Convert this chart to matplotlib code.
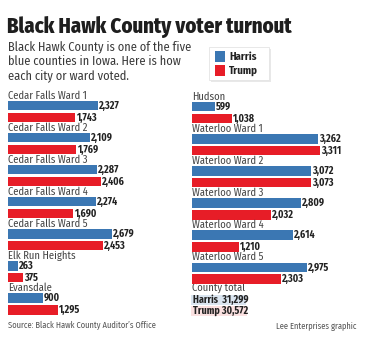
import matplotlib
matplotlib.use("Agg")
import matplotlib.pyplot as plt
from matplotlib.patches import Rectangle

plt.rcParams['font.family'] = ['Fira Sans Condensed', 'DejaVu Sans']

# Data
left_places = ["Cedar Falls Ward 1", "Cedar Falls Ward 2", "Cedar Falls Ward 3",
               "Cedar Falls Ward 4", "Cedar Falls Ward 5", "Elk Run Heights", "Evansdale"]
left_harris = [2327, 2109, 2287, 2274, 2679, 263, 900]
left_trump = [1743, 1769, 2406, 1690, 2453, 375, 1295]

right_places = ["Hudson", "Waterloo Ward 1", "Waterloo Ward 2", "Waterloo Ward 3",
                "Waterloo Ward 4", "Waterloo Ward 5"]
right_harris = [599, 3262, 3072, 2809, 2614, 2975]
right_trump = [1038, 3311, 3073, 2032, 1210, 2303]

total_harris = 31299
total_trump = 30572

BLUE = "#3b77b3"
RED = "#e71d27"
TEXT = "#3a3a3a"

W, H = 392, 349
fig = plt.figure(figsize=(W / 100, H / 100), dpi=100)
fig.patch.set_facecolor("white")

# overlay in pixel coordinates for headings and notes
ov = fig.add_axes([0, 0, 1, 1])
ov.set_xlim(0, W)
ov.set_ylim(H, 0)
ov.axis("off")

PX_PER_VOTE = 0.0387
STEP = 32.1
BAR_H = 9.4


def panel(x0, x1, y_first, places, harris, trump):
    ax = fig.add_axes([x0 / W, 0, (x1 - x0) / W, 1])
    ax.set_xlim(0, (x1 - x0) / PX_PER_VOTE)
    ax.set_ylim(H, 0)
    ax.axis("off")
    n = len(places)
    yb = [y_first + STEP * i for i in range(n)]
    yr = [y + BAR_H + 2.4 for y in yb]
    ax.barh(yb, harris, height=BAR_H, color=BLUE, align="edge")
    ax.barh(yr, trump, height=BAR_H, color=RED, align="edge")
    for i in range(n):
        ax.text(0, yb[i] - 5.3, places[i], fontsize=7.6, color="#444444",
                va="center", ha="left")
        ax.text(harris[i] + 30, yb[i] + BAR_H / 2 + 0.3, f"{harris[i]:,}",
                fontsize=7.2, fontweight="bold", color="#222222", va="center")
        ax.text(trump[i] + 30, yr[i] + BAR_H / 2 + 0.3, f"{trump[i]:,}",
                fontsize=7.2, fontweight="bold", color="#222222", va="center")
    return ax


panel(8, 190, 100.7, left_places, left_harris, left_trump)
panel(192, 385, 102.0, right_places, right_harris, right_trump)

# Title and intro
ov.text(7, 27, "Black Hawk County voter turnout", fontsize=14.9, fontweight="heavy",
        color="#1e1e1e", va="center", ha="left")
for k, line in enumerate(["Black Hawk County is one of the five",
                          "blue counties in Iowa. Here is how",
                          "each city or ward voted."]):
    ov.text(8, 47 + 14.3 * k, line, fontsize=8.9, color=TEXT, va="center", ha="left")

# Legend box with soft shadow
ov.add_patch(Rectangle((211, 49), 60, 33, facecolor="#d9d9d9", edgecolor="none", alpha=0.6))
ov.add_patch(Rectangle((209, 47), 60, 33, facecolor="white", edgecolor="#e4e4e4", lw=0.6))
ov.add_patch(Rectangle((215, 51), 10.5, 10.5, facecolor=BLUE, edgecolor="none"))
ov.add_patch(Rectangle((215, 65), 10.5, 10.5, facecolor=RED, edgecolor="none"))
ov.text(229, 56.5, "Harris", fontsize=7.8, fontweight="bold", color="#222222", va="center")
ov.text(229, 70.5, "Trump", fontsize=7.8, fontweight="bold", color="#222222", va="center")

# County total
ov.text(192, 288, "County total", fontsize=7.6, color="#444444", va="center", ha="left")
ov.add_patch(Rectangle((191.5, 295), 55, 9.5, facecolor="#dae5f0", edgecolor="none"))
ov.add_patch(Rectangle((191.5, 306), 56, 9.5, facecolor="#fbe1e1", edgecolor="none"))
ov.text(193, 300, f"Harris  {total_harris:,}", fontsize=7.2, fontweight="bold",
        color="#222222", va="center")
ov.text(193, 311, f"Trump {total_trump:,}", fontsize=7.2, fontweight="bold",
        color="#222222", va="center")

# Footer
ov.text(8, 325, "Source: Black Hawk County Auditor\u2019s Office", fontsize=6.1,
        color="#555555", va="center", ha="left")
ov.text(357, 326.5, "Lee Enterprises graphic", fontsize=6.1, color="#555555",
        va="center", ha="right")

fig.savefig("out.png", dpi=100, facecolor="white")
